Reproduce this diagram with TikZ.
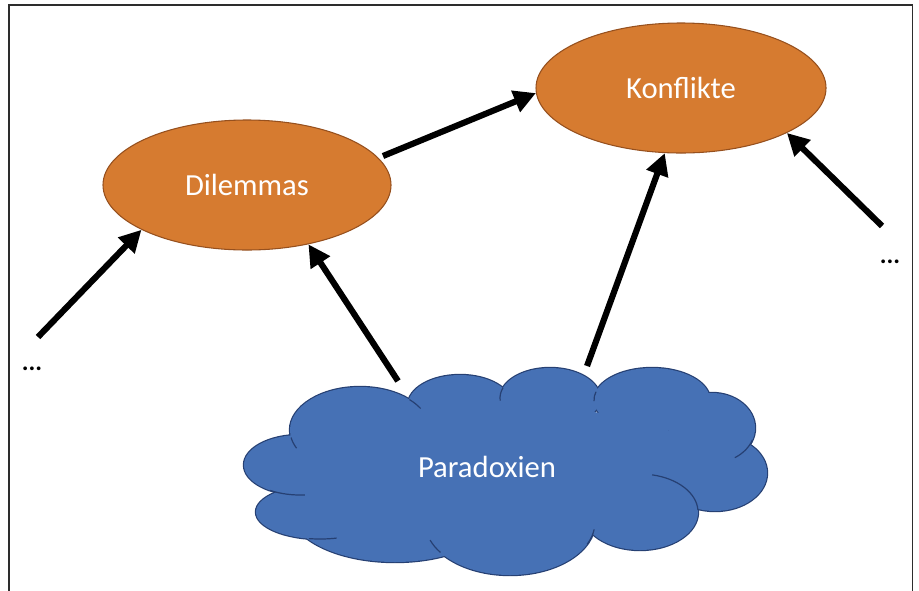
\documentclass[tikz,border=0pt]{standalone}
\usepackage{fontspec}
\setmainfont{Carlito}
\usetikzlibrary{arrows.meta,shapes.geometric}
\definecolor{orfill}{RGB}{214,123,48}
\definecolor{ordraw}{RGB}{150,80,30}
\definecolor{blfill}{RGB}{70,113,181}
\definecolor{bldraw}{RGB}{38,64,115}
\definecolor{framecol}{RGB}{45,45,45}
\begin{document}
\begin{tikzpicture}[x=0.75pt,y=-0.75pt,
  ell/.style={ellipse, draw=ordraw, line width=0.8pt, fill=orfill, inner sep=0pt,
              text=white, font=\fontsize{23}{27}\selectfont},
  lbl/.style={text=white, font=\fontsize{23}{27}\selectfont, inner sep=0pt},
  arr/.style={line width=4.6pt, -{Triangle[length=16.5pt,width=16.5pt]}},
  dotsnode/.style={font=\fontsize{19}{21}\selectfont\bfseries, inner sep=0pt},
  lobeline/.style={draw=bldraw, line width=1.8pt},
  stub/.style={draw=bldraw, line width=0.9pt}]
\useasboundingbox (0,0) rectangle (919,590);
% frame
\draw[framecol, line width=1.2pt] (9,592) -- (9,5) -- (912.5,5) -- (912.5,592);

% cloud
\def\lobes{300/465/56/30, 320/512/64/27, 395/510/105/52, 510/522/85/53,
  640/512/58/38, 715/473/52/38, 712/428/43/35, 652/400/58/32,
  550/398/50/30, 460/405/52/30, 360/430/70/43}
\foreach \cx/\cy/\rx/\ry in \lobes
  {\path[lobeline] (\cx,\cy) ellipse [x radius=\rx, y radius=\ry];}
\foreach \cx/\cy/\rx/\ry in \lobes
  {\fill[blfill] (\cx,\cy) ellipse [x radius=\rx, y radius=\ry];}
\fill[blfill] (500,465) ellipse [x radius=200, y radius=60];
\fill[blfill] (675,450) ellipse [x radius=30, y radius=20];
\foreach \cx/\cy/\rx/\ry/\a/\b in {300/465/56/30/122/85, 320/512/64/27/100/75,
  510/522/85/53/160/145, 510/522/85/53/25/8, 640/512/58/38/-78/-3,
  712/428/43/35/20/58, 652/400/58/32/195/178, 550/398/50/30/200/175,
  360/430/70/43/-45/-30, 360/430/70/43/170/155}
  {\path[stub] (\cx,\cy) ++({\rx*cos(\a)},{\ry*sin(\a)}) arc [start angle=\a, end angle=\b, x radius=\rx, y radius=\ry];}
\node[lbl] (par) at (487,467) {Paradoxien};

% ellipses
\node[ell, minimum width=216pt, minimum height=97.5pt] (dil) at (247,185) {Dilemmas};
\node[ell, minimum width=217.5pt, minimum height=97.5pt] (kon) at (681,88) {Konflikte};

% arrow starts
\coordinate (s1) at (38,337);
\coordinate (s2) at (398,381);
\coordinate (s3) at (383,156);
\coordinate (s4) at (587,366);
\coordinate (s5) at (882,226);

\draw[arr] (s1) -- (dil.203.5);
\draw[arr] (s2) -- (dil.316);
\draw[arr] (s3) -- (kon.182);
\draw[arr] (s4) -- (kon.256.2);
\draw[arr] (s5) -- (kon.337);

\node[dotsnode] (d1) at (32,369) {...};
\node[dotsnode] (d2) at (890,262) {...};
\end{tikzpicture}
\end{document}
